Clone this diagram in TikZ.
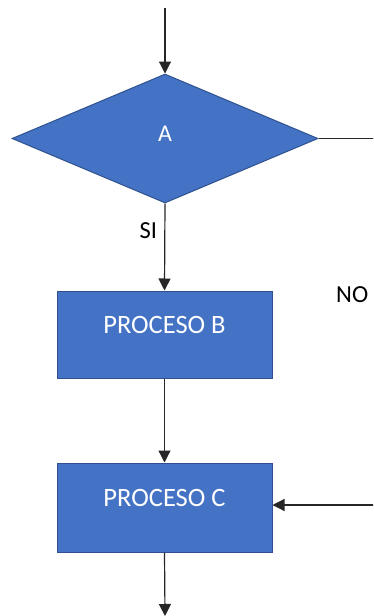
\documentclass[tikz,border=0pt]{standalone}
\usepackage{fontspec}
\setmainfont{Carlito}
\usetikzlibrary{shapes.geometric,arrows.meta}
\definecolor{boxfill}{HTML}{4472C4}
\definecolor{boxline}{HTML}{2F528F}
\tikzset{
  proc/.style={rectangle, draw=boxline, fill=boxfill, line width=1pt,
    minimum width=215pt, inner sep=0pt, text=white,
    font=\fontsize{26.5}{31}\selectfont, text height=17pt, text depth=19pt},
  decision/.style={diamond, draw=boxline, fill=boxfill, line width=1pt,
    aspect=2.37, minimum width=306pt, minimum height=129pt, inner sep=0pt,
    text=white, font=\fontsize{24}{29}\selectfont, text height=16pt, text depth=11pt},
  lbl/.style={inner sep=0pt, anchor=base west, font=\fontsize{24.5}{29}\selectfont},
  conn/.style={line width=1.2pt, draw=black!85},
  arr/.style={conn, -{Triangle[width=12pt,length=12pt]}}
}
\begin{document}
\begin{tikzpicture}[x=1pt,y=-1pt]
\useasboundingbox (0,0) rectangle (373,616);
\clip (0,0) rectangle (373,616);
\coordinate (top) at (165,8);
\node[decision] (A) at (165,138.5) {A};
\node[proc, minimum height=87pt] (B) at (164.5,334.5) {PROCESO B};
\node[proc, minimum height=89pt] (C) at (164.5,507.5) {PROCESO C};
\coordinate (aout) at (374,138.5);
\coordinate (cin) at (374,505);
\coordinate (bot) at (165,616);
\node[lbl] (si) at (139.5,238) {SI};
\begin{scope}
\clip (300,270) rectangle (368.5,320);
\node[lbl] (no) at (336,302) {NO};
\end{scope}
\draw[arr] (top) -- (A.north);
\draw[conn] (A.east) -- (aout);
\draw[arr] (A.south) -- (B.north);
\draw[arr] (B.south) -- (C.north);
\draw[arr] (cin) -- (cin -| C.east);
\draw[arr] (C.south) -- (bot);
\end{tikzpicture}
\end{document}
